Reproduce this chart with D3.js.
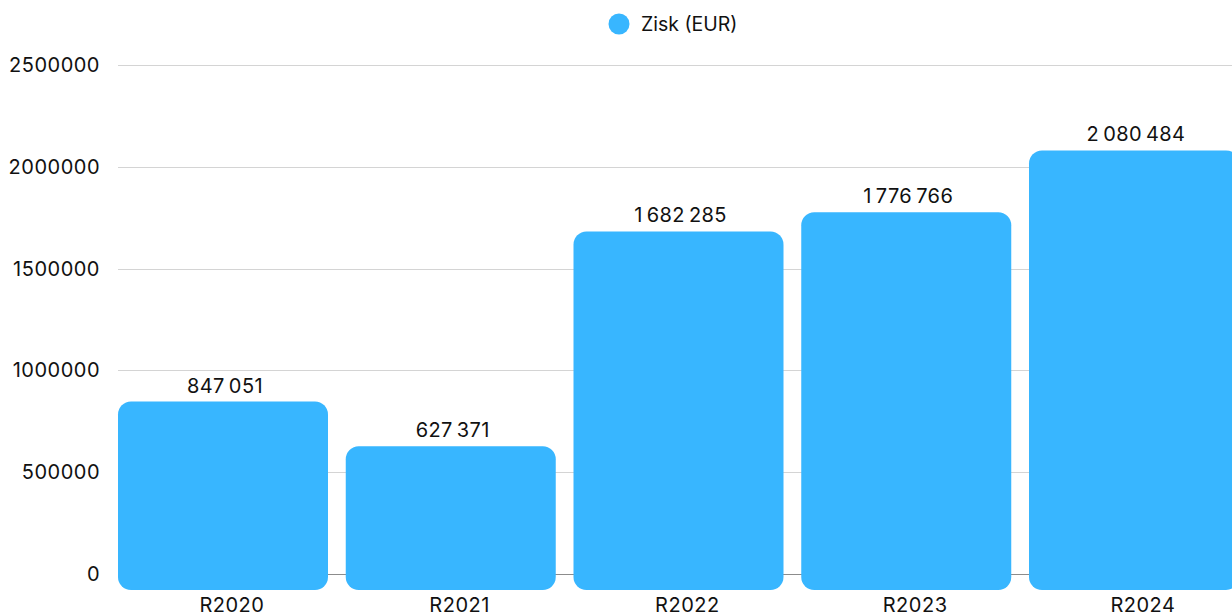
<!DOCTYPE html>
<html>
<head>
<meta charset="utf-8">
<script src="https://cdn.jsdelivr.net/npm/d3@7"></script>
<style>
  body { margin: 0; background: #fff; }
  svg { display: block; font-family: Inter, "Noto Sans", sans-serif; }
</style>
</head>
<body>
<div id="chart"></div>
<script>
// data
var categories = ["R2020", "R2021", "R2022", "R2023", "R2024"];
var values = [847051, 627371, 1682285, 1776766, 2080484];
var yTicks = [0, 500000, 1000000, 1500000, 2000000, 2500000];
var seriesName = "Zisk (EUR)";

var W = 1232, H = 615;
var left = 118, right = 1232;

var svg = d3.select("#chart").append("svg")
  .attr("width", W)
  .attr("height", H);

var y = d3.scaleLinear()
  .domain([0, 2500000])
  .range([574, 65]);

var x = d3.scaleBand()
  .domain(categories)
  .range([left, left + 5 * 227.75])
  .padding(0);

var barW = x.bandwidth() - 17.75;
var color = "#38b6ff";

// grid
svg.append("g")
  .selectAll("line")
  .data(yTicks)
  .enter().append("line")
  .attr("x1", left)
  .attr("x2", right)
  .attr("y1", function (d) { return Math.round(y(d)) + 0.5; })
  .attr("y2", function (d) { return Math.round(y(d)) + 0.5; })
  .attr("stroke", function (d) { return d === 0 ? "#8c8c8c" : "#d4d4d4"; })
  .attr("stroke-width", 1);

// y labels
svg.append("g")
  .selectAll("text")
  .data(yTicks)
  .enter().append("text")
  .attr("x", 100)
  .attr("y", function (d) { return y(d); })
  .attr("dy", "0.35em")
  .attr("text-anchor", "end")
  .attr("font-size", 20)
  .attr("letter-spacing", 0.5)
  .attr("fill", "#111")
  .text(function (d) { return d; });

// bars (extend 16px below baseline, rounded)
svg.append("g")
  .selectAll("rect")
  .data(values)
  .enter().append("rect")
  .attr("x", function (d, i) { return x(categories[i]); })
  .attr("y", function (d) { return y(d); })
  .attr("width", barW)
  .attr("height", function (d) { return y(0) - y(d) + 16; })
  .attr("rx", 13)
  .attr("fill", color);

var loc = d3.formatLocale({ decimal: ",", thousands: "\u2009", grouping: [3], currency: ["", ""] });
var fmt = loc.format(",d");

// value labels
svg.append("g")
  .selectAll("text")
  .data(values)
  .enter().append("text")
  .attr("x", function (d, i) { return x(categories[i]) + barW / 2 + 2; })
  .attr("y", function (d) { return y(d) - 9; })
  .attr("text-anchor", "middle")
  .attr("font-size", 20)
  .attr("letter-spacing", 0.4)
  .attr("fill", "#111")
  .text(function (d) { return fmt(d); });

// x labels
svg.append("g")
  .selectAll("text")
  .data(categories)
  .enter().append("text")
  .attr("x", function (d) { return x(d) + x.bandwidth() / 2; })
  .attr("y", 612)
  .attr("text-anchor", "middle")
  .attr("font-size", 20)
  .attr("letter-spacing", 0.5)
  .attr("fill", "#111")
  .text(function (d) { return d; });

// legend
var lg = svg.append("g");
lg.append("circle")
  .attr("cx", 619)
  .attr("cy", 24)
  .attr("r", 10.5)
  .attr("fill", color);
lg.append("text")
  .attr("x", 641)
  .attr("y", 24)
  .attr("dy", "0.35em")
  .attr("font-size", 19.5)
  .attr("fill", "#111")
  .text(seriesName);
</script>
</body>
</html>
